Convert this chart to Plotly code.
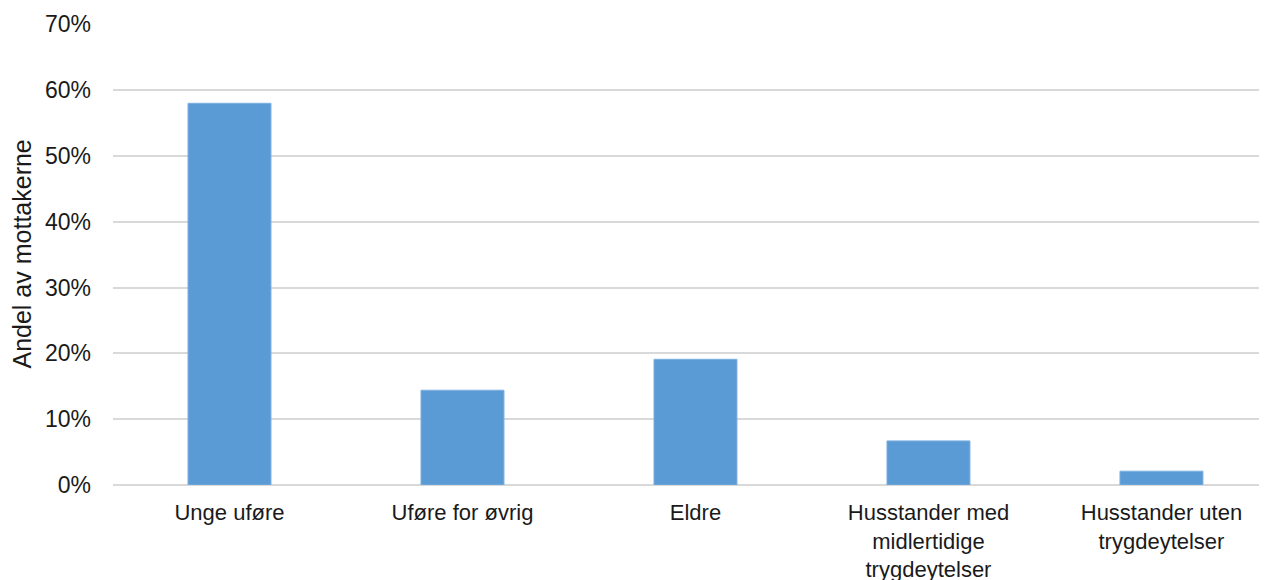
import plotly.graph_objects as go

categories = ["Unge uføre", "Uføre for øvrig", "Eldre",
              "Husstander med<br>midlertidige<br>trygdeytelser",
              "Husstander uten<br>trygdeytelser"]
values = [0.580, 0.144, 0.191, 0.067, 0.021]
y_ticks = [0, 0.1, 0.2, 0.3, 0.4, 0.5, 0.6, 0.7]
y_title = "Andel av mottakerne"

FONT = "Liberation Sans, Arial, sans-serif"
TXT = "#1a1a1a"

fig = go.Figure(go.Bar(
    x=categories, y=values,
    marker=dict(color="#5b9bd5", line=dict(color="#7aaee0", width=1)),
    width=0.356,
))

fig.update_layout(
    width=1259, height=572,
    margin=dict(l=105, r=0, t=16, b=95),
    paper_bgcolor="white", plot_bgcolor="white",
    font=dict(family=FONT, size=23, color=TXT),
    showlegend=False,
)
fig.update_yaxes(
    range=[0, 0.7005], tickvals=y_ticks, tickformat=".0%",
    showgrid=True, gridcolor="#d9d9d9", gridwidth=1.5,
    zeroline=True, zerolinecolor="#d9d9d9", zerolinewidth=1.5,
    showline=False, ticks="", ticklabelstandoff=21,
    automargin=False, tickfont=dict(size=23),
)
fig.update_xaxes(
    range=[-0.5, 4.453],
    showline=False, ticks="", ticklabelstandoff=12,
    automargin=False, tickangle=0, tickfont=dict(size=22),
)
fig.add_annotation(
    text=y_title, xref="paper", yref="paper", x=-0.0797, y=0.5,
    xanchor="center", yanchor="middle", textangle=-90, showarrow=False,
    font=dict(family=FONT, size=25, color=TXT),
)

fig.write_html("out.html")
